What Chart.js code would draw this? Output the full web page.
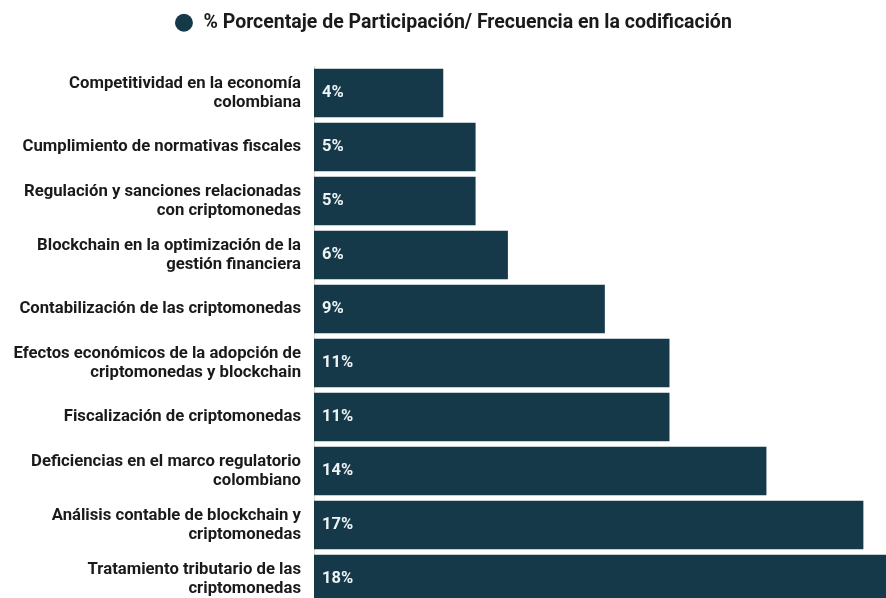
<!DOCTYPE html>
<html>
<head>
<meta charset="utf-8">
<script src="https://cdn.jsdelivr.net/npm/chart.js@4"></script>
<style>
  html, body { margin: 0; padding: 0; background: #fff; overflow: hidden; }
  #wrap { width: 886px; height: 606px; }
</style>
</head>
<body>
<div id="wrap"><canvas id="chart"></canvas></div>
<script>
const categories = [
  ['Competitividad en la economía', 'colombiana'],
  'Cumplimiento de normativas fiscales',
  ['Regulación y sanciones relacionadas', 'con criptomonedas'],
  ['Blockchain en la optimización de la', 'gestión financiera'],
  'Contabilización de las criptomonedas',
  ['Efectos económicos de la adopción de', 'criptomonedas y blockchain'],
  'Fiscalización de criptomonedas',
  ['Deficiencias en el marco regulatorio', 'colombiano'],
  ['Análisis contable de blockchain y', 'criptomonedas'],
  ['Tratamiento tributario de las', 'criptomonedas']
];
const participacion = [4, 5, 5, 6, 9, 11, 11, 14, 17, 18];
const seriesName = '% Porcentaje de Participación/ Frecuencia en la codificación';

const barColor = '#16394a';

// writes the % value at the start of each bar
const valueLabels = {
  id: 'valueLabels',
  afterDatasetsDraw(chart) {
    const ctx = chart.ctx;
    const meta = chart.getDatasetMeta(0);
    ctx.save();
    ctx.font = 'bold 16.5px Roboto';
    ctx.fillStyle = '#eef3f5';
    ctx.textAlign = 'left';
    ctx.textBaseline = 'middle';
    meta.data.forEach((bar, i) => {
      ctx.fillText(participacion[i] + '%', bar.base + 8, bar.y);
    });
    ctx.restore();
  }
};

// leave more room under the legend, nudge it a bit right
const legendSpace = {
  id: 'legendSpace',
  beforeInit(chart) {
    const fit = chart.legend.fit;
    chart.legend.fit = function () {
      fit.call(this);
      this.height = 66;
    };
  },
  afterLayout(chart) {
    chart.legend.left += 10;
    chart.legend.right += 10;
  }
};

new Chart(document.getElementById('chart'), {
  type: 'bar',
  data: {
    labels: categories,
    datasets: [{
      label: seriesName,
      data: participacion,
      backgroundColor: barColor,
      borderWidth: 0,
      categoryPercentage: 1,
      barPercentage: 0.9
    }]
  },
  options: {
    indexAxis: 'y',
    responsive: true,
    maintainAspectRatio: false,
    animation: false,
    layout: { padding: 0 },
    plugins: {
      legend: {
        position: 'top',
        labels: {
          usePointStyle: true,
          pointStyle: 'circle',
          boxWidth: 19.5,
          boxHeight: 12.7,
          color: '#1a1a1a',
          padding: 13,
          font: { family: 'Roboto', size: 19.5, weight: 'bold' }
        }
      },
      tooltip: { enabled: false }
    },
    scales: {
      x: {
        display: false,
        min: 0,
        max: 17.7
      },
      y: {
        grid: { display: false },
        border: { display: true, color: '#d8d8d8' },
        ticks: {
          color: '#1a1a1a',
          padding: 5,
          font: { family: 'Roboto', size: 16.7, weight: 'bold', lineHeight: 1.15 }
        },
        afterFit(scale) {
          scale.width = 314;
          scale.paddingTop = 0;
          scale.paddingBottom = 0;
        }
      }
    }
  },
  plugins: [valueLabels, legendSpace]
});
</script>
</body>
</html>
